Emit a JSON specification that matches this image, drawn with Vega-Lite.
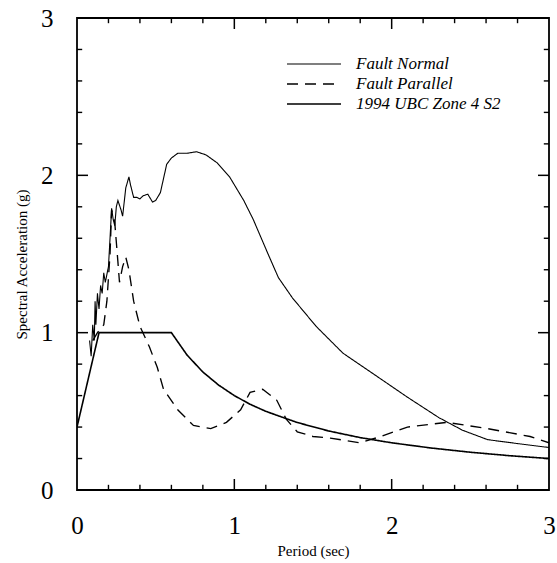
{
  "$schema": "https://vega.github.io/schema/vega-lite/v6.json",
  "width": 472,
  "height": 472,
  "autosize": {"type": "none"},
  "padding": {"left": 77, "top": 18, "right": 8, "bottom": 73},
  "background": "white",
  "config": {
    "view": {"stroke": "black", "strokeWidth": 1.8},
    "font": "Liberation Serif",
    "axis": {
      "domain": false,
      "ticks": false,
      "grid": false,
      "labelColor": "black",
      "titleColor": "black",
      "labelFont": "Liberation Serif",
      "titleFont": "Liberation Serif",
      "labelFontSize": 25,
      "titleFontSize": 15,
      "titleFontWeight": "normal"
    }
  },
  "datasets": {
    "ticks": [
      {"v": 0.2, "k": "minor"}, {"v": 0.4, "k": "minor"}, {"v": 0.6, "k": "minor"}, {"v": 0.8, "k": "minor"},
      {"v": 1.0, "k": "major"},
      {"v": 1.2, "k": "minor"}, {"v": 1.4, "k": "minor"}, {"v": 1.6, "k": "minor"}, {"v": 1.8, "k": "minor"},
      {"v": 2.0, "k": "major"},
      {"v": 2.2, "k": "minor"}, {"v": 2.4, "k": "minor"}, {"v": 2.6, "k": "minor"}, {"v": 2.8, "k": "minor"}
    ],
    "spectra": [
      {"series": "Fault Normal", "period": 0.08, "sa": 0.95},
      {"series": "Fault Normal", "period": 0.09, "sa": 0.85},
      {"series": "Fault Normal", "period": 0.10, "sa": 1.05},
      {"series": "Fault Normal", "period": 0.11, "sa": 0.95},
      {"series": "Fault Normal", "period": 0.115, "sa": 1.2},
      {"series": "Fault Normal", "period": 0.12, "sa": 1.05},
      {"series": "Fault Normal", "period": 0.13, "sa": 1.25},
      {"series": "Fault Normal", "period": 0.14, "sa": 1.15},
      {"series": "Fault Normal", "period": 0.15, "sa": 1.3},
      {"series": "Fault Normal", "period": 0.16, "sa": 1.25},
      {"series": "Fault Normal", "period": 0.17, "sa": 1.38},
      {"series": "Fault Normal", "period": 0.18, "sa": 1.32},
      {"series": "Fault Normal", "period": 0.20, "sa": 1.42},
      {"series": "Fault Normal", "period": 0.21, "sa": 1.6},
      {"series": "Fault Normal", "period": 0.22, "sa": 1.79},
      {"series": "Fault Normal", "period": 0.23, "sa": 1.72},
      {"series": "Fault Normal", "period": 0.24, "sa": 1.68},
      {"series": "Fault Normal", "period": 0.25, "sa": 1.8},
      {"series": "Fault Normal", "period": 0.26, "sa": 1.84},
      {"series": "Fault Normal", "period": 0.28, "sa": 1.78},
      {"series": "Fault Normal", "period": 0.29, "sa": 1.74},
      {"series": "Fault Normal", "period": 0.31, "sa": 1.92},
      {"series": "Fault Normal", "period": 0.33, "sa": 1.99},
      {"series": "Fault Normal", "period": 0.34, "sa": 1.94},
      {"series": "Fault Normal", "period": 0.36, "sa": 1.86},
      {"series": "Fault Normal", "period": 0.38, "sa": 1.86},
      {"series": "Fault Normal", "period": 0.40, "sa": 1.85},
      {"series": "Fault Normal", "period": 0.42, "sa": 1.87},
      {"series": "Fault Normal", "period": 0.45, "sa": 1.88},
      {"series": "Fault Normal", "period": 0.48, "sa": 1.83},
      {"series": "Fault Normal", "period": 0.50, "sa": 1.84},
      {"series": "Fault Normal", "period": 0.53, "sa": 1.89},
      {"series": "Fault Normal", "period": 0.55, "sa": 1.98},
      {"series": "Fault Normal", "period": 0.57, "sa": 2.07},
      {"series": "Fault Normal", "period": 0.60, "sa": 2.11},
      {"series": "Fault Normal", "period": 0.64, "sa": 2.14},
      {"series": "Fault Normal", "period": 0.70, "sa": 2.14},
      {"series": "Fault Normal", "period": 0.76, "sa": 2.15},
      {"series": "Fault Normal", "period": 0.82, "sa": 2.13},
      {"series": "Fault Normal", "period": 0.89, "sa": 2.08},
      {"series": "Fault Normal", "period": 0.97, "sa": 1.99},
      {"series": "Fault Normal", "period": 1.06, "sa": 1.84},
      {"series": "Fault Normal", "period": 1.12, "sa": 1.72},
      {"series": "Fault Normal", "period": 1.21, "sa": 1.51},
      {"series": "Fault Normal", "period": 1.28, "sa": 1.35},
      {"series": "Fault Normal", "period": 1.37, "sa": 1.22},
      {"series": "Fault Normal", "period": 1.52, "sa": 1.04},
      {"series": "Fault Normal", "period": 1.69, "sa": 0.87},
      {"series": "Fault Normal", "period": 1.91, "sa": 0.72},
      {"series": "Fault Normal", "period": 2.10, "sa": 0.59},
      {"series": "Fault Normal", "period": 2.30, "sa": 0.46},
      {"series": "Fault Normal", "period": 2.45, "sa": 0.38},
      {"series": "Fault Normal", "period": 2.61, "sa": 0.32},
      {"series": "Fault Normal", "period": 2.80, "sa": 0.295},
      {"series": "Fault Normal", "period": 3.0, "sa": 0.27},
      {"series": "Fault Parallel", "period": 0.10, "sa": 0.95},
      {"series": "Fault Parallel", "period": 0.13, "sa": 1.0},
      {"series": "Fault Parallel", "period": 0.17, "sa": 1.05},
      {"series": "Fault Parallel", "period": 0.19, "sa": 1.2},
      {"series": "Fault Parallel", "period": 0.21, "sa": 1.5},
      {"series": "Fault Parallel", "period": 0.22, "sa": 1.78},
      {"series": "Fault Parallel", "period": 0.24, "sa": 1.7},
      {"series": "Fault Parallel", "period": 0.26, "sa": 1.45},
      {"series": "Fault Parallel", "period": 0.27, "sa": 1.32},
      {"series": "Fault Parallel", "period": 0.29, "sa": 1.42},
      {"series": "Fault Parallel", "period": 0.31, "sa": 1.48},
      {"series": "Fault Parallel", "period": 0.33, "sa": 1.4},
      {"series": "Fault Parallel", "period": 0.36, "sa": 1.2},
      {"series": "Fault Parallel", "period": 0.40, "sa": 1.04},
      {"series": "Fault Parallel", "period": 0.46, "sa": 0.91},
      {"series": "Fault Parallel", "period": 0.51, "sa": 0.78},
      {"series": "Fault Parallel", "period": 0.55, "sa": 0.64},
      {"series": "Fault Parallel", "period": 0.64, "sa": 0.51},
      {"series": "Fault Parallel", "period": 0.74, "sa": 0.41},
      {"series": "Fault Parallel", "period": 0.85, "sa": 0.39},
      {"series": "Fault Parallel", "period": 0.95, "sa": 0.43},
      {"series": "Fault Parallel", "period": 1.04, "sa": 0.51},
      {"series": "Fault Parallel", "period": 1.10, "sa": 0.62},
      {"series": "Fault Parallel", "period": 1.18, "sa": 0.64},
      {"series": "Fault Parallel", "period": 1.27, "sa": 0.57},
      {"series": "Fault Parallel", "period": 1.33, "sa": 0.45},
      {"series": "Fault Parallel", "period": 1.40, "sa": 0.37},
      {"series": "Fault Parallel", "period": 1.50, "sa": 0.34},
      {"series": "Fault Parallel", "period": 1.61, "sa": 0.33},
      {"series": "Fault Parallel", "period": 1.80, "sa": 0.30},
      {"series": "Fault Parallel", "period": 1.93, "sa": 0.34},
      {"series": "Fault Parallel", "period": 2.10, "sa": 0.40},
      {"series": "Fault Parallel", "period": 2.35, "sa": 0.43},
      {"series": "Fault Parallel", "period": 2.61, "sa": 0.39},
      {"series": "Fault Parallel", "period": 2.88, "sa": 0.34},
      {"series": "Fault Parallel", "period": 3.0, "sa": 0.30},
      {"series": "1994 UBC Zone 4 S2", "period": 0.0, "sa": 0.4},
      {"series": "1994 UBC Zone 4 S2", "period": 0.14, "sa": 1.0},
      {"series": "1994 UBC Zone 4 S2", "period": 0.6, "sa": 1.0},
      {"series": "1994 UBC Zone 4 S2", "period": 0.7, "sa": 0.857},
      {"series": "1994 UBC Zone 4 S2", "period": 0.8, "sa": 0.75},
      {"series": "1994 UBC Zone 4 S2", "period": 0.9, "sa": 0.667},
      {"series": "1994 UBC Zone 4 S2", "period": 1.0, "sa": 0.6},
      {"series": "1994 UBC Zone 4 S2", "period": 1.1, "sa": 0.545},
      {"series": "1994 UBC Zone 4 S2", "period": 1.2, "sa": 0.5},
      {"series": "1994 UBC Zone 4 S2", "period": 1.4, "sa": 0.429},
      {"series": "1994 UBC Zone 4 S2", "period": 1.6, "sa": 0.375},
      {"series": "1994 UBC Zone 4 S2", "period": 1.8, "sa": 0.333},
      {"series": "1994 UBC Zone 4 S2", "period": 2.0, "sa": 0.3},
      {"series": "1994 UBC Zone 4 S2", "period": 2.25, "sa": 0.267},
      {"series": "1994 UBC Zone 4 S2", "period": 2.5, "sa": 0.24},
      {"series": "1994 UBC Zone 4 S2", "period": 2.75, "sa": 0.218},
      {"series": "1994 UBC Zone 4 S2", "period": 3.0, "sa": 0.2}
    ]
  },
  "layer": [
    {
      "data": {"name": "spectra"},
      "mark": {"type": "line", "color": "black", "clip": true},
      "encoding": {
        "x": {
          "field": "period", "type": "quantitative",
          "scale": {"domain": [0, 3], "nice": false, "zero": false},
          "axis": {
            "orient": "bottom",
            "title": "Period (sec)",
            "values": [0, 1, 2, 3],
            "format": "d",
            "labelPadding": 23,
            "labelBaseline": "top",
            "labelFlush": false,
            "labelOverlap": false,
            "titleY": 53,
            "titleBaseline": "top"
          }
        },
        "y": {
          "field": "sa", "type": "quantitative",
          "scale": {"domain": [0, 3], "nice": false, "zero": false},
          "axis": {
            "orient": "left",
            "title": "Spectral Acceleration (g)",
            "values": [0, 1, 2, 3],
            "format": "d",
            "labelPadding": 24,
            "labelBaseline": "middle",
            "labelFlush": false,
            "labelOverlap": false,
            "titleX": -56,
            "titleY": 246,
            "titleAngle": -90,
            "titleAlign": "center",
            "titleBaseline": "middle"
          }
        },
        "strokeDash": {
          "field": "series", "type": "nominal",
          "scale": {
            "domain": ["Fault Normal", "Fault Parallel", "1994 UBC Zone 4 S2"],
            "range": [[1, 0], [11, 7], [1, 0]]
          },
          "legend": {
            "orient": "none",
            "legendX": 227,
            "legendY": 36,
            "title": null,
            "padding": 0,
            "symbolType": "M-3,0H3",
            "symbolSize": 324,
            "symbolStrokeColor": "black",
            "symbolFillColor": "transparent",
            "symbolStrokeWidth": 1.3,
            "labelOffset": 32,
            "labelFont": "Liberation Serif",
            "labelFontStyle": "italic",
            "labelFontSize": 17,
            "labelColor": "black",
            "rowPadding": 2,
            "labelLimit": 300,
            "encode": {
              "symbols": {
                "update": {
                  "strokeWidth": {"signal": "datum.value === '1994 UBC Zone 4 S2' ? 2.4 : (datum.value === 'Fault Parallel' ? 1.6 : 1.1)"}
                }
              }
            }
          }
        },
        "strokeWidth": {
          "field": "series", "type": "nominal",
          "scale": {
            "domain": ["Fault Normal", "Fault Parallel", "1994 UBC Zone 4 S2"],
            "range": [1.1, 1.6, 2.6]
          },
          "legend": null
        }
      }
    },
    {
      "data": {"name": "ticks"},
      "transform": [{"filter": "datum.k === 'major'"}],
      "mark": {"type": "rule", "color": "black", "strokeWidth": 1.5},
      "encoding": {
        "x": {"field": "v", "type": "quantitative", "axis": null},
        "y": {"datum": 0, "type": "quantitative", "axis": null},
        "y2": {"datum": 0.07}
      }
    },
    {
      "data": {"name": "ticks"},
      "transform": [{"filter": "datum.k === 'minor'"}],
      "mark": {"type": "rule", "color": "black", "strokeWidth": 1.4},
      "encoding": {
        "x": {"field": "v", "type": "quantitative", "axis": null},
        "y": {"datum": 0, "type": "quantitative", "axis": null},
        "y2": {"datum": 0.033}
      }
    },
    {
      "data": {"name": "ticks"},
      "transform": [{"filter": "datum.k === 'major'"}],
      "mark": {"type": "rule", "color": "black", "strokeWidth": 1.5},
      "encoding": {
        "x": {"field": "v", "type": "quantitative", "axis": null},
        "y": {"datum": 3, "type": "quantitative", "axis": null},
        "y2": {"datum": 2.93}
      }
    },
    {
      "data": {"name": "ticks"},
      "transform": [{"filter": "datum.k === 'minor'"}],
      "mark": {"type": "rule", "color": "black", "strokeWidth": 1.4},
      "encoding": {
        "x": {"field": "v", "type": "quantitative", "axis": null},
        "y": {"datum": 3, "type": "quantitative", "axis": null},
        "y2": {"datum": 2.967}
      }
    },
    {
      "data": {"name": "ticks"},
      "transform": [{"filter": "datum.k === 'major'"}],
      "mark": {"type": "rule", "color": "black", "strokeWidth": 1.5},
      "encoding": {
        "y": {"field": "v", "type": "quantitative", "axis": null},
        "x": {"datum": 0, "type": "quantitative", "axis": null},
        "x2": {"datum": 0.07}
      }
    },
    {
      "data": {"name": "ticks"},
      "transform": [{"filter": "datum.k === 'minor'"}],
      "mark": {"type": "rule", "color": "black", "strokeWidth": 1.4},
      "encoding": {
        "y": {"field": "v", "type": "quantitative", "axis": null},
        "x": {"datum": 0, "type": "quantitative", "axis": null},
        "x2": {"datum": 0.033}
      }
    },
    {
      "data": {"name": "ticks"},
      "transform": [{"filter": "datum.k === 'major'"}],
      "mark": {"type": "rule", "color": "black", "strokeWidth": 1.5},
      "encoding": {
        "y": {"field": "v", "type": "quantitative", "axis": null},
        "x": {"datum": 3, "type": "quantitative", "axis": null},
        "x2": {"datum": 2.93}
      }
    },
    {
      "data": {"name": "ticks"},
      "transform": [{"filter": "datum.k === 'minor'"}],
      "mark": {"type": "rule", "color": "black", "strokeWidth": 1.4},
      "encoding": {
        "y": {"field": "v", "type": "quantitative", "axis": null},
        "x": {"datum": 3, "type": "quantitative", "axis": null},
        "x2": {"datum": 2.967}
      }
    }
  ],
  "resolve": {"axis": {"x": "independent", "y": "independent"}}
}
